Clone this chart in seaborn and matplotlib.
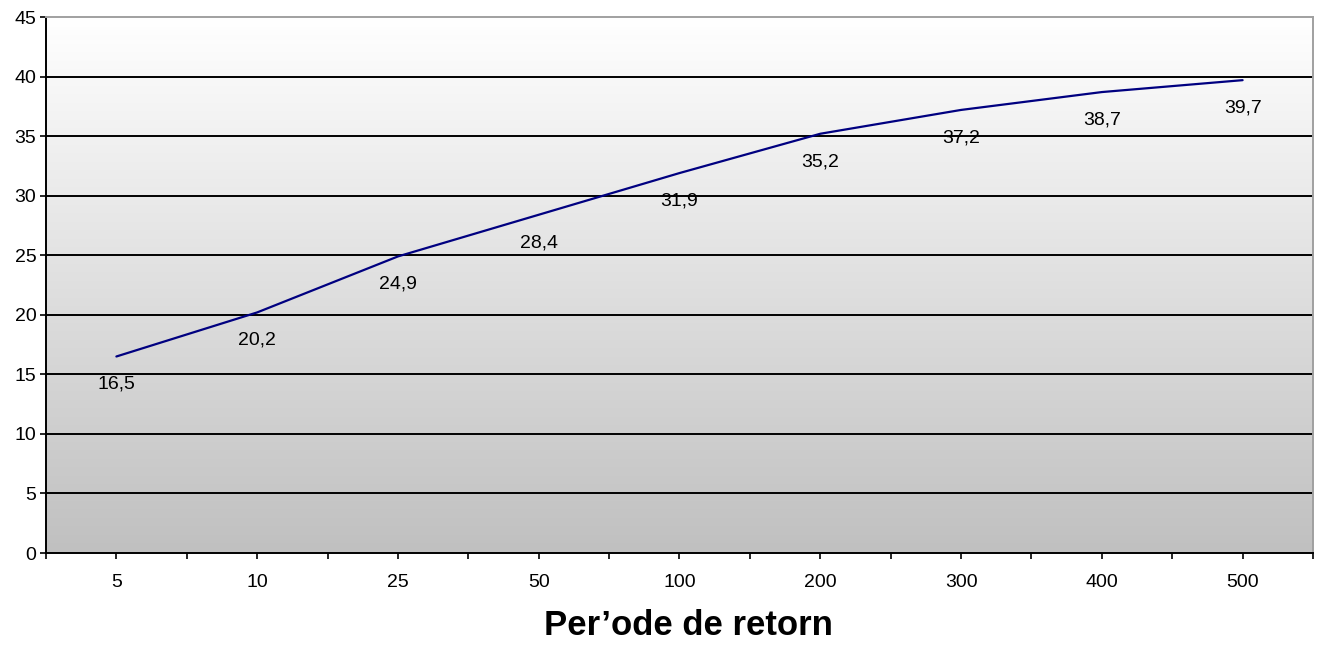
import numpy as np
import pandas as pd
import matplotlib
matplotlib.use("Agg")
import matplotlib.pyplot as plt
import seaborn as sns
from matplotlib.ticker import MultipleLocator, FixedLocator

# data
periods = ["5", "10", "25", "50", "100", "200", "300", "400", "500"]
values = [16.5, 20.2, 24.9, 28.4, 31.9, 35.2, 37.2, 38.7, 39.7]
labels = ["16,5", "20,2", "24,9", "28,4", "31,9", "35,2", "37,2", "38,7", "39,7"]

df = pd.DataFrame({"pos": np.arange(len(periods)), "val": values})

sns.set_style("white")
plt.rcParams["font.family"] = ["Liberation Sans", "DejaVu Sans"]
plt.rcParams["text.color"] = "black"
plt.rcParams["xtick.color"] = "black"
plt.rcParams["ytick.color"] = "black"

fig = plt.figure(figsize=(13.18, 6.45), dpi=100)
ax = fig.add_axes([0.0349, 0.1426, 0.9613, 0.831])

# gradient background white -> grey
grad = np.linspace(1.0, 0.0, 256).reshape(-1, 1)
ax.imshow(grad, cmap=matplotlib.colors.LinearSegmentedColormap.from_list("g", ["#c0c0c0", "#ffffff"]),
          aspect="auto", extent=[-0.5, len(periods) - 0.5, 0, 45], origin="upper", zorder=0)

for yv in range(5, 45, 5):
    ax.axhline(yv, color="black", lw=1.4, zorder=1)

sns.lineplot(data=df, x="pos", y="val", color="#000080", lw=1.6, ax=ax, zorder=3)

for i, (v, t) in enumerate(zip(values, labels)):
    ax.annotate(t, (i, v), xytext=(0, -20), textcoords="offset points",
                ha="center", va="center", fontsize=14, color="black", zorder=4)

ax.set_xlim(-0.5, len(periods) - 0.5)
ax.set_ylim(0, 45)
ax.yaxis.set_major_locator(MultipleLocator(5))
ax.set_xticks(range(len(periods)))
ax.set_xticklabels(periods)
ax.xaxis.set_minor_locator(FixedLocator(np.arange(-0.5, len(periods), 1.0)))
ax.tick_params(axis="x", which="major", length=4, width=1.2, pad=11, labelsize=14,
               direction="out", bottom=True, colors="black")
ax.tick_params(axis="x", which="minor", length=4, width=1.2, direction="out", bottom=True, colors="black")
ax.tick_params(axis="y", length=4, width=1.2, pad=3, labelsize=14, direction="out", left=True, colors="black")
ax.set_xlabel("")
ax.set_ylabel("")

for s in ["left", "bottom"]:
    ax.spines[s].set_color("black")
    ax.spines[s].set_linewidth(1.4)
for s in ["top", "right"]:
    ax.spines[s].set_color("#a0a0a0")
    ax.spines[s].set_linewidth(1.4)
ax.set_zorder(1)

fig.text(0.522, 0.031, "Per\u2019ode de retorn", ha="center", va="center",
         fontsize=25, fontweight="bold", color="black")

fig.savefig("out.png", dpi=100)
